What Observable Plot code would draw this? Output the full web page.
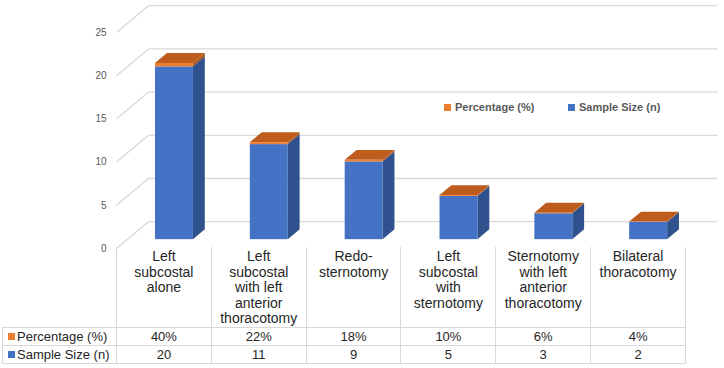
<!DOCTYPE html>
<html><head><meta charset="utf-8">
<script src="https://cdn.jsdelivr.net/npm/d3@7"></script>
<script src="https://cdn.jsdelivr.net/npm/@observablehq/plot@0.6"></script>
<style>
body{margin:0;background:#fff;font-family:"Liberation Sans",Arial,sans-serif;}
#wrap{position:relative;width:724px;height:368px;overflow:hidden;background:#fff;}
#wrap svg{position:absolute;left:0;top:0;overflow:visible;}
.legend{position:absolute;top:101px;font:bold 11px "Liberation Sans",Arial,sans-serif;color:#595959;display:flex;align-items:center;white-space:nowrap;line-height:13px;}
.sw{display:inline-block;width:7px;height:7px;margin-right:4px;}
table{position:absolute;top:247px;left:2px;border-collapse:collapse;table-layout:fixed;color:#262626;}
td{border:1px solid #d9d9d9;text-align:center;padding:0;font-size:13px;line-height:15px;overflow:hidden;}
tr.head td{border-top:none;vertical-align:top;font-size:14px;line-height:15.5px;white-space:pre-line;padding-top:2px;height:76px;}
tr.head td.blank{border:none;}
tr.r1 td{height:17px;}
tr.r2 td{height:17px;}
td.lab{text-align:left;padding-left:5px;white-space:nowrap;}
td.lab .sw{margin-right:2px;width:7px;height:7px;position:relative;top:-1px;}
</style>
</head><body>
<div id="wrap"></div>
<script>
// ---- data ----
const categories = [
  "Left\nsubcostal\nalone",
  "Left\nsubcostal\nwith left\nanterior\nthoracotomy",
  "Redo-\nsternotomy",
  "Left\nsubcostal\nwith\nsternotomy",
  "Sternotomy\nwith left\nanterior\nthoracotomy",
  "Bilateral\nthoracotomy"
];
const sampleSize = [20, 11, 9, 5, 3, 2];
const percentage = [40, 22, 18, 10, 6, 4];
const seriesNames = ["Percentage (%)", "Sample Size (n)"];
const yTicks = [0, 5, 10, 15, 20, 25];

// ---- layout constants (3D projection) ----
const DX = 0.3375, DY = 3.1;      // wall depth offset in data units
const T0 = 0.33, T1 = 0.70;       // bar front/back depth fraction
const BL = 0.30, BR = 0.70;       // bar left/right within column
const BLUE = "#4472C4", BLUE_SIDE = "#2F528F";
const ORANGE = "#ED7D31", ORANGE_SIDE = "#A9561E", ORANGE_TOP = "#BD5C1C";
const GRID = "#d9d9d9";

const rows = categories.map((c, i) => ({i, c, n: sampleSize[i], p: percentage[i] / 100}));

const front = [];
const sides = [];
const tops = [];
rows.forEach(r => {
  const segs = [
    {lo: 0, hi: r.n, f: BLUE, s: BLUE_SIDE, key: "n"},
    {lo: r.n, hi: r.n + r.p, f: ORANGE, s: ORANGE_SIDE, key: "p"}
  ];
  segs.forEach(sg => {
    front.push({x1: r.i + BL + T0 * DX, x2: r.i + BR + T0 * DX, y1: sg.lo + T0 * DY, y2: sg.hi + T0 * DY, fill: sg.f});
    [T0, T1].forEach(t => sides.push({z: r.i + sg.key, x: r.i + BR + t * DX, y1: sg.lo + t * DY, y2: sg.hi + t * DY, fill: sg.s}));
  });
  const top = r.n + r.p;
  [T0, T1].forEach(t => tops.push({z: r.i, y: top + t * DY, x1: r.i + BL + t * DX, x2: r.i + BR + t * DX}));
});

const chart = Plot.plot({
  width: 724,
  height: 252,
  margin: 0,
  style: {fontFamily: "'Liberation Sans', Arial, sans-serif", overflow: "visible", background: "transparent"},
  x: {type: "linear", domain: [0, 6], range: [116, 685], axis: null},
  y: {type: "linear", domain: [0, 25], range: [248, 32], axis: null},
  marks: [
    Plot.link(yTicks, {x1: 0, y1: d => d, x2: DX, y2: d => d + DY, stroke: GRID, strokeWidth: 1.3}),
    Plot.link(yTicks, {x1: DX, y1: d => d + DY, x2: 6 + DX, y2: d => d + DY, stroke: GRID, strokeWidth: 1.3}),
    Plot.text(yTicks, {x: 0, y: d => d, text: d => String(d), textAnchor: "end", dx: -10, fill: "#595959", fontSize: 10}),
    Plot.areaY(sides, {x: "x", y1: "y1", y2: "y2", z: "z", fill: "fill", curve: "linear"}),
    Plot.areaX(tops, {y: "y", x1: "x1", x2: "x2", z: "z", fill: ORANGE_TOP, curve: "linear"}),
    Plot.rect(front, {x1: "x1", x2: "x2", y1: "y1", y2: "y2", fill: "fill"})
  ]
});

const wrap = document.getElementById("wrap");
wrap.appendChild(chart);

// legend
const legendItems = [
  {name: seriesNames[0], color: ORANGE, left: 444},
  {name: seriesNames[1], color: BLUE, left: 568}
];
legendItems.forEach(it => {
  const d = document.createElement("div");
  d.className = "legend";
  d.style.left = it.left + "px";
  d.innerHTML = `<span class="sw" style="background:${it.color}"></span>${it.name}`;
  wrap.appendChild(d);
});

// data table aligned with the x scale
const xs = chart.scale("x");
const edges = d3.range(0, 7).map(i => xs.apply(i));
const table = document.createElement("table");
const cg = document.createElement("colgroup");
const c0 = document.createElement("col"); c0.style.width = (edges[0] - 2) + "px"; cg.appendChild(c0);
for (let i = 0; i < 6; i++) { const c = document.createElement("col"); c.style.width = (edges[i + 1] - edges[i]) + "px"; cg.appendChild(c); }
table.appendChild(cg);
table.style.width = (edges[6] - 2) + "px";

const trh = document.createElement("tr"); trh.className = "head";
const blank = document.createElement("td"); blank.className = "blank"; trh.appendChild(blank);
categories.forEach(c => { const td = document.createElement("td"); td.textContent = c; trh.appendChild(td); });
table.appendChild(trh);

const dataRows = [
  {name: seriesNames[0], color: ORANGE, vals: percentage.map(v => v + "%"), cls: "r1"},
  {name: seriesNames[1], color: BLUE, vals: sampleSize.map(v => String(v)), cls: "r2"}
];
dataRows.forEach(r => {
  const tr = document.createElement("tr"); tr.className = r.cls;
  const lab = document.createElement("td"); lab.className = "lab";
  lab.innerHTML = `<span class="sw" style="background:${r.color}"></span>${r.name}`;
  tr.appendChild(lab);
  r.vals.forEach(v => { const td = document.createElement("td"); td.textContent = v; tr.appendChild(td); });
  table.appendChild(tr);
});
wrap.appendChild(table);
</script>
</body></html>
